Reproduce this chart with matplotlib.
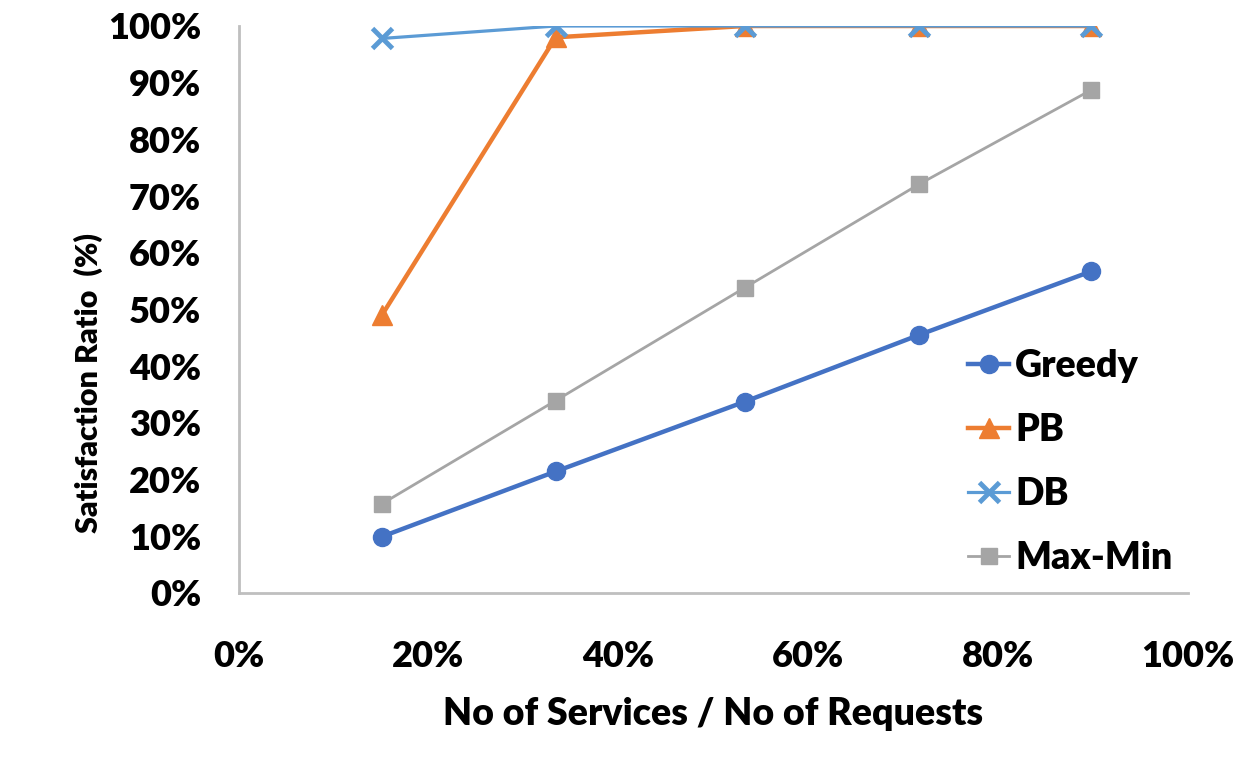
import matplotlib as mpl
mpl.rcParams["font.family"] = ["Lato", "DejaVu Sans"]
mpl.rcParams["font.weight"] = "bold"
import matplotlib.pyplot as plt
from matplotlib.ticker import PercentFormatter

# ratio of services to requests (%)
x_ratio = [15.1, 33.4, 53.3, 71.7, 89.8]

greedy = [9.9, 21.4, 33.7, 45.5, 56.7]
pb = [49.0, 98.0, 100.0, 100.0, 100.0]
db = [97.8, 100.0, 100.0, 100.0, 100.0]
maxmin = [15.7, 33.9, 53.8, 72.1, 88.7]

x_ticks = [0, 20, 40, 60, 80, 100]
y_ticks = [0, 10, 20, 30, 40, 50, 60, 70, 80, 90, 100]

fig = plt.figure(figsize=(12.58, 7.6), dpi=100)
ax = fig.add_axes([0.1897, 0.2201, 0.7546, 0.7457])

ax.plot(x_ratio, greedy, color="#4472C4", lw=3.2, marker="o", ms=13,
        label="Greedy", zorder=3)
ax.plot(x_ratio, pb, color="#ED7D31", lw=3.2, marker="^", ms=14,
        label="PB", zorder=3)
ax.plot(x_ratio, db, color="#5B9BD5", lw=2.3, marker="x", ms=14, mew=3.5,
        label="DB", zorder=4)
ax.plot(x_ratio, maxmin, color="#A5A5A5", lw=2.0, marker="s", ms=12,
        label="Max-Min", zorder=3)

ax.set_xlim(0, 100)
ax.set_ylim(0, 100)
ax.set_xticks(x_ticks)
ax.set_yticks(y_ticks)
ax.xaxis.set_major_formatter(PercentFormatter(decimals=0))
ax.yaxis.set_major_formatter(PercentFormatter(decimals=0))
ax.tick_params(axis="y", length=0, pad=27)
ax.tick_params(axis="x", length=0, pad=34)

for lab in ax.get_yticklabels():
    lab.set_fontsize(26)
    lab.set_fontweight("heavy")
for lab in ax.get_xticklabels():
    lab.set_fontsize(26)
    lab.set_fontweight("heavy")

for side in ["top", "right"]:
    ax.spines[side].set_visible(False)
for side in ["left", "bottom"]:
    ax.spines[side].set_color("#BFBFBF")
    ax.spines[side].set_linewidth(2)

ax.set_ylabel("Satisfaction Ratio  (%)", fontsize=22, fontweight="heavy")
ax.yaxis.set_label_coords(-0.143, 0.37)
ax.set_xlabel("No of Services / No of Requests", fontsize=27,
              fontweight="heavy", labelpad=17)

leg = ax.legend(loc="center left", bbox_to_anchor=(0.733, 0.23),
                frameon=False, fontsize=27, handlelength=1.1,
                handletextpad=0.15, labelspacing=0.8)
for t in leg.get_texts():
    t.set_fontweight("heavy")

fig.savefig("out.png", dpi=100)
